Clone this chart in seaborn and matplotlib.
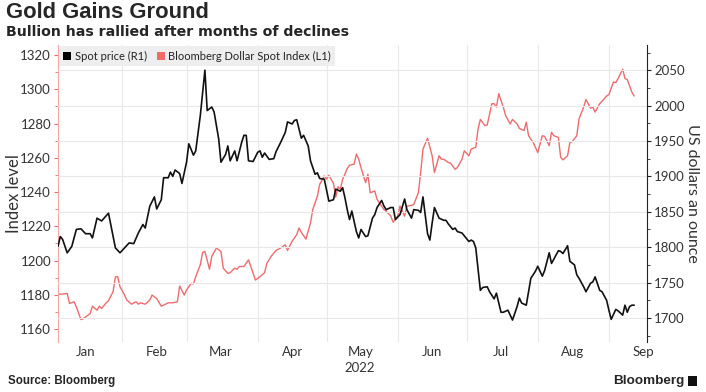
import pandas as pd
import seaborn as sns
import matplotlib.pyplot as plt
import matplotlib.dates as mdates
from matplotlib.lines import Line2D
from matplotlib.patches import Rectangle
from matplotlib.ticker import MultipleLocator, NullFormatter


# gold spot price, USD per ounce (right axis); day = days after 2022-01-01
spot_day = [3, 4, 5, 7, 9, 11, 13, 15, 17, 18, 20, 22, 25, 28, 30, 32, 34, 36, 38, 40,
            41, 43, 45, 46, 48, 49, 51, 52, 53, 54, 56, 57, 59, 60, 62, 63, 65, 67, 68, 70,
            71, 73, 74, 76, 77, 78, 80, 81, 83, 84, 85, 86, 88, 90, 91, 92, 93, 95, 97, 98,
            100, 102, 103, 105, 106, 107, 109, 110, 112, 113, 115, 116, 117, 119, 121, 123, 124, 126, 127, 128,
            129, 130, 131, 133, 134, 135, 137, 138, 140, 141, 142, 144, 145, 146, 148, 149, 150, 152, 154, 155,
            157, 158, 160, 161, 162, 164, 165, 166, 167, 169, 171, 172, 173, 175, 176, 177, 179, 180, 182, 183,
            184, 185, 187, 188, 190, 191, 193, 194, 196, 197, 199, 201, 203, 204, 205, 207, 208, 209, 211, 212,
            214, 215, 217, 218, 220, 221, 222, 223, 225, 226, 228, 229, 230, 232, 233, 235, 236, 237, 239, 240,
            242, 243, 244, 246, 247, 249, 250, 251, 252, 253, 254]
spot_price = [1801, 1815, 1811, 1792, 1801, 1825, 1826, 1819, 1819, 1813, 1841, 1837, 1848, 1799, 1792, 1799, 1806, 1805, 1820, 1832,
              1827, 1858, 1871, 1854, 1867, 1898, 1898, 1906, 1900, 1909, 1904, 1890, 1920, 1946, 1930, 1936, 1986, 2050, 1993, 1998,
              1991, 1953, 1920, 1931, 1943, 1922, 1936, 1922, 1948, 1958, 1958, 1922, 1921, 1934, 1936, 1927, 1933, 1924, 1925, 1935,
              1948, 1962, 1977, 1974, 1979, 1980, 1954, 1958, 1943, 1922, 1903, 1905, 1897, 1896, 1865, 1867, 1882, 1879, 1884, 1870,
              1853, 1839, 1851, 1822, 1813, 1825, 1815, 1816, 1841, 1846, 1856, 1866, 1858, 1853, 1856, 1856, 1839, 1846, 1868, 1853,
              1841, 1853, 1852, 1849, 1871, 1819, 1810, 1834, 1856, 1841, 1838, 1838, 1833, 1825, 1827, 1822, 1820, 1816, 1808, 1810,
              1808, 1799, 1739, 1743, 1744, 1737, 1727, 1735, 1708, 1708, 1711, 1697, 1716, 1728, 1721, 1718, 1737, 1756, 1766, 1773,
              1759, 1767, 1792, 1777, 1789, 1795, 1794, 1791, 1802, 1780, 1775, 1761, 1756, 1744, 1737, 1749, 1751, 1758, 1739, 1737,
              1725, 1711, 1698, 1712, 1710, 1704, 1718, 1708, 1716, 1718, 1718]

# Bloomberg Dollar Spot Index (left axis)
dxy_day = [3, 5, 7, 8, 10, 11, 13, 14, 16, 17, 18, 20, 21, 22, 24, 25, 27, 28, 29, 30,
           32, 33, 35, 37, 38, 39, 41, 43, 44, 46, 48, 49, 51, 53, 55, 56, 58, 59, 61, 62,
           63, 65, 66, 67, 69, 70, 72, 74, 75, 77, 78, 80, 81, 82, 84, 86, 88, 89, 91, 93,
           94, 96, 98, 100, 102, 103, 105, 107, 108, 109, 111, 113, 114, 116, 117, 119, 120, 121, 123, 124,
           125, 126, 127, 128, 129, 130, 132, 133, 134, 135, 137, 138, 139, 141, 142, 144, 145, 146, 148, 149,
           151, 152, 154, 155, 157, 158, 160, 161, 162, 164, 166, 167, 169, 170, 171, 173, 174, 176, 177, 179,
           180, 182, 183, 185, 186, 187, 189, 190, 192, 193, 194, 195, 197, 198, 200, 201, 203, 204, 206, 207,
           208, 210, 211, 212, 214, 215, 217, 218, 219, 221, 222, 223, 225, 226, 227, 229, 230, 232, 233, 235,
           236, 237, 239, 241, 242, 243, 245, 246, 247, 249, 250, 251, 253, 254]
dxy_index = [1180.4, 1180.4, 1180.8, 1174.9, 1175.9, 1172.9, 1165.5, 1166.0, 1168.0, 1169.0, 1173.3, 1171.0, 1173.3, 1172.0, 1175.3, 1176.5, 1181.8, 1190.4, 1190.6, 1184.7,
             1179.8, 1176.9, 1174.5, 1175.9, 1174.5, 1175.3, 1174.5, 1176.9, 1179.8, 1177.8, 1173.3, 1173.9, 1175.3, 1175.3, 1175.9, 1185.1, 1179.8, 1182.7, 1186.7, 1186.3,
             1190.6, 1197.5, 1204.7, 1205.3, 1194.9, 1202.4, 1207.3, 1205.3, 1195.5, 1192.5, 1192.9, 1195.5, 1194.9, 1196.5, 1196.5, 1200.4, 1192.5, 1188.6, 1190.6, 1192.9,
             1198.4, 1202.7, 1205.9, 1207.3, 1209.2, 1205.9, 1211.2, 1215.1, 1219.0, 1216.5, 1212.5, 1221.9, 1229.8, 1237.6, 1244.5, 1249.4, 1247.5, 1249.8, 1245.1, 1237.0,
             1243.1, 1241.6, 1247.5, 1250.4, 1253.7, 1255.7, 1256.3, 1262.2, 1259.2, 1254.3, 1245.5, 1250.4, 1239.6, 1240.6, 1235.7, 1231.8, 1229.8, 1228.8, 1225.9, 1222.4,
             1225.9, 1231.8, 1225.9, 1231.8, 1232.2, 1232.8, 1239.6, 1251.4, 1265.1, 1271.4, 1261.2, 1251.4, 1261.2, 1259.2, 1259.2, 1257.3, 1256.9, 1253.3, 1254.3, 1259.2,
             1264.1, 1261.2, 1265.1, 1266.1, 1276.9, 1282.4, 1278.8, 1279.2, 1291.6, 1291.6, 1289.6, 1297.5, 1289.6, 1284.7, 1279.8, 1282.4, 1279.8, 1277.2, 1275.9, 1280.8,
             1272.9, 1269.0, 1266.1, 1263.1, 1272.9, 1272.5, 1267.1, 1274.9, 1272.9, 1271.9, 1260.2, 1258.8, 1261.2, 1269.0, 1269.4, 1272.9, 1282.8, 1289.6, 1294.1, 1289.0,
             1289.6, 1286.7, 1291.6, 1294.5, 1296.1, 1296.9, 1304.3, 1303.9, 1306.3, 1311.8, 1306.3, 1305.7, 1298.4, 1296.1]

red = '#ef6b6e'
base = pd.Timestamp('2022-01-01')

spot = pd.DataFrame({'date': base + pd.to_timedelta(spot_day, unit='D'), 'price': spot_price})
dxy = pd.DataFrame({'date': base + pd.to_timedelta(dxy_day, unit='D'), 'index': dxy_index})

sns.set_style('white')
plt.rcParams['font.family'] = ['Lato', 'DejaVu Sans']

fig = plt.figure(figsize=(7.06, 3.92), dpi=100)
ax = fig.add_axes([58 / 706, 1 - 342 / 392, (647 - 58) / 706, (342 - 45) / 392])
ax2 = ax.twinx()

sns.lineplot(data=dxy, x='date', y='index', ax=ax, color=red, linewidth=1.0)
sns.lineplot(data=spot, x='date', y='price', ax=ax2, color='#111111', linewidth=1.2)

ax.set_xlim(base + pd.Timedelta(days=3), base + pd.Timedelta(days=259.6))
ax.set_ylim(1152.4, 1325.9)
ax2.set_ylim(1666, 2085.6)

# x axis: gridlines at month starts, labels mid-month
ax.xaxis.set_major_locator(mdates.MonthLocator())
ax.xaxis.set_major_formatter(NullFormatter())
ax.xaxis.set_minor_locator(mdates.MonthLocator(bymonthday=16))
ax.xaxis.set_minor_formatter(mdates.DateFormatter('%b'))
ax.tick_params(axis='x', which='both', length=0, labelsize=9.5, labelcolor='#333333', pad=3)
ax.grid(axis='x', color='#e8e8e8', linewidth=0.8)
ax.grid(axis='y', visible=False)

# left axis
ax.yaxis.set_major_locator(MultipleLocator(20))
ax.yaxis.set_minor_locator(MultipleLocator(10))
ax.tick_params(axis='y', which='major', left=True, length=3, width=0.8, color=red,
               labelsize=9.5, labelcolor='#333333', pad=2)
ax.tick_params(axis='y', which='minor', left=True, length=2, width=0.6, color=red)
ax.set_ylabel('Index level', fontsize=12, color='#333333')
ax.yaxis.set_label_coords(-0.061, 0.5)
ax.set_xlabel('')

# right axis
ax2.yaxis.set_major_locator(MultipleLocator(50))
ax2.yaxis.set_minor_locator(MultipleLocator(25))
ax2.tick_params(axis='y', which='major', right=True, length=3, width=0.8, color='#222222',
                labelsize=9.5, labelcolor='#333333', pad=2)
ax2.tick_params(axis='y', which='minor', right=True, length=2, width=0.6, color='#222222')
ax2.grid(axis='y', color='#e8e8e8', linewidth=0.8)
ax2.set_ylabel('US dollars an ounce', fontsize=11.5, color='#333333', rotation=270, va='center')
ax2.yaxis.set_label_coords(1.076, 0.5)

for a in (ax, ax2):
    for side in ('top', 'bottom', 'left', 'right'):
        a.spines[side].set_visible(False)
ax.spines['left'].set_visible(True)
ax.spines['left'].set_color('#f4a6a6')
ax.spines['left'].set_linewidth(0.8)
ax2.spines['right'].set_visible(True)
ax2.spines['right'].set_color('#222222')
ax2.spines['right'].set_linewidth(0.8)

handles = [
    Line2D([], [], linestyle='none', marker='s', markersize=5.5, markerfacecolor='black',
           markeredgewidth=0, label='Spot price (R1)'),
    Line2D([], [], linestyle='none', marker='s', markersize=5.5, markerfacecolor=red,
           markeredgewidth=0, label='Bloomberg Dollar Spot Index (L1)'),
]
leg = ax2.legend(handles=handles, loc='upper left', bbox_to_anchor=(0.0, 1.0), ncol=2,
                 frameon=True, fancybox=False, facecolor='#eeeeee', edgecolor='none', framealpha=1,
                 fontsize=8, handlelength=0.7, handletextpad=0.3, columnspacing=0.9,
                 borderpad=0.4, borderaxespad=0.1)
for t in leg.get_texts():
    t.set_color('#222222')

# year under May
fig.text(360 / 706, 1 - 368 / 392, '2022', fontsize=9.5, color='#333333', ha='center', va='center')

bold = ['Liberation Sans', 'DejaVu Sans']
fig.text(6 / 706, 1 - 12 / 392, 'Gold Gains Ground', fontsize=15.8, fontweight='bold',
         family=bold, ha='left', va='center')
fig.text(6 / 706, 1 - 32 / 392, 'Bullion has rallied after months of declines', fontsize=10.2,
         fontweight='bold', family=['DejaVu Sans'], ha='left', va='center')
fig.text(8 / 706, 1 - 381 / 392, 'Source: Bloomberg', fontsize=8.3, fontweight='bold',
         family=bold, ha='left', va='center')
fig.text(684 / 706, 1 - 381 / 392, 'Bloomberg', fontsize=9.7, fontweight='bold',
         family=bold, ha='right', va='center')
fig.patches.append(Rectangle((688 / 706, 1 - 386 / 392), 9 / 706, 10 / 392,
                             transform=fig.transFigure, facecolor='#111111', edgecolor='none'))

fig.savefig('out.png', dpi=100)
